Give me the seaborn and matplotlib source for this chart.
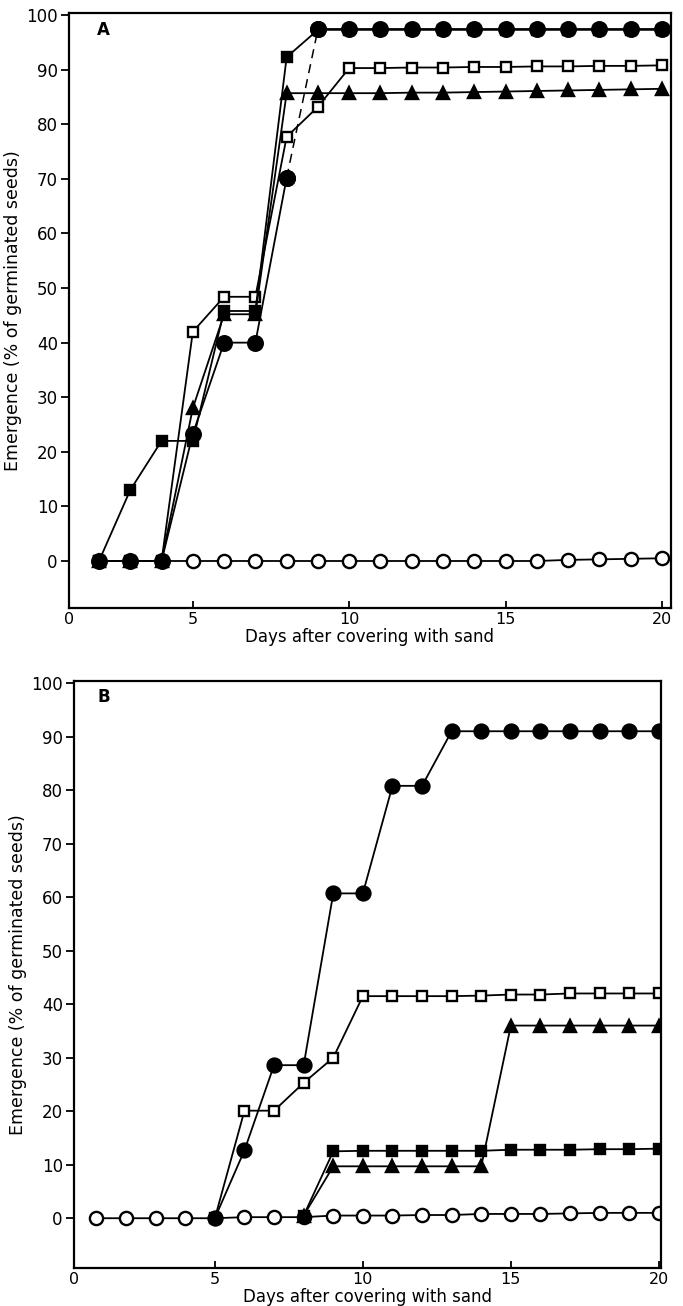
import matplotlib
matplotlib.use("Agg")
import matplotlib.pyplot as plt
import seaborn as sns

# ---- panel A data (days 2..20) ----
days_a = list(range(2, 21))
a_open_circle = [0] * 15 + [0.2, 0.3, 0.4, 0.5]
a_open_square = [0, 0, 0, 42, 48.4, 48.4, 77.7, 83.2, 90.3, 90.3, 90.4, 90.4, 90.5, 90.5, 90.6, 90.6, 90.7, 90.7, 90.8]
a_triangle = [0, 0, 0, 28, 45.2, 45.2, 85.7, 85.7, 85.7, 85.7, 85.8, 85.8, 85.9, 86.0, 86.1, 86.2, 86.3, 86.4, 86.5]
a_filled_square = [0, 13, 22, 22, 45.8, 45.8, 92.3, 97.3] + [97.3] * 11
a_filled_circle = [0, 0, 0, 23.3, 40, 40, 70.2, 97.4] + [97.4] * 11

# ---- panel B data (days 1..20) ----
days_b = list(range(1, 21))
b_open_circle = [0, 0, 0, 0, 0, 0.2, 0.2, 0.2, 0.5, 0.5, 0.5, 0.6, 0.6, 0.8, 0.8, 0.8, 0.9, 1.0, 1.0, 1.0]
days_b5 = list(range(5, 21))
b_open_square = [0, 20.1, 20.1, 25.3, 30, 41.5, 41.5, 41.5, 41.5, 41.6, 41.8, 41.8, 42, 42, 42, 42]
b_filled_circle = [0, 12.7, 28.6, 28.6, 60.7, 60.7, 80.8, 80.8, 91, 91, 91, 91, 91, 91, 91, 91]
days_b8 = list(range(8, 21))
b_filled_square = [0.5, 12.5, 12.6, 12.6, 12.6, 12.6, 12.6, 12.8, 12.8, 12.8, 12.9, 12.9, 13.0]
b_triangle = [0.5, 9.7, 9.7, 9.7, 9.7, 9.7, 9.7, 36, 36, 36, 36, 36, 36]

y_ticks = list(range(0, 101, 10))
x_ticks = [5, 10, 15, 20]

sns.set_style("ticks")
plt.rcParams["font.family"] = ["DejaVu Sans"]
plt.rcParams["text.color"] = "black"
plt.rcParams["axes.labelcolor"] = "black"
plt.rcParams["xtick.color"] = "black"
plt.rcParams["ytick.color"] = "black"

fig = plt.figure(figsize=(6.83, 13.06), dpi=100)
axA = fig.add_axes([0.101, 0.5345, 0.8814, 0.4556])
axB = fig.add_axes([0.1083, 0.0291, 0.8594, 0.4495])


def draw(ax, x, y, marker, filled, ms, ls="-", lw=1.3):
    sns.lineplot(x=x, y=y, ax=ax, color="black", linewidth=lw, linestyle=ls,
                 marker=marker, markersize=ms,
                 markerfacecolor="black" if filled else "white",
                 markeredgecolor="black", markeredgewidth=1.7,
                 errorbar=None, legend=False)


draw(axA, days_a, a_open_circle, "o", False, 9.5)
draw(axA, days_a, a_open_square, "s", False, 7.5)
draw(axA, days_a, a_triangle, "^", True, 8.5)
draw(axA, days_a, a_filled_square, "s", True, 7.5)
# filled-circle series: the day 8 -> 9 rise is drawn dashed in the original
draw(axA, days_a[:7], a_filled_circle[:7], "o", True, 10.5)
draw(axA, days_a[6:8], a_filled_circle[6:8], "o", True, 10.5, ls=(0, (6, 4)), lw=1.1)
draw(axA, days_a[7:], a_filled_circle[7:], "o", True, 10.5)

draw(axB, days_b, b_open_circle, "o", False, 9.5)
draw(axB, days_b5, b_open_square, "s", False, 7.5)
draw(axB, days_b8, b_triangle, "^", True, 8.5)
draw(axB, days_b8, b_filled_square, "s", True, 7.5)
draw(axB, days_b5, b_filled_circle, "o", True, 10)

for ax, xl, yl, tag, tx in [(axA, (1.04, 20.29), (-8.6, 100.4), "A", 0.047),
                            (axB, (0.24, 20.07), (-9.3, 100.4), "B", 0.04)]:
    ax.set_xlim(*xl)
    ax.set_ylim(*yl)
    ax.set_xticks([xl[0]] + x_ticks)
    ax.set_xticklabels(["0"] + [str(t) for t in x_ticks])
    ax.set_yticks(y_ticks)
    ax.set_yticklabels([str(t) for t in y_ticks])
    ax.tick_params(axis="y", direction="out", length=6, width=1.3, labelsize=12, pad=2)
    ax.tick_params(axis="x", direction="in", length=5, width=1.3, labelsize=11.5, pad=3)
    for s in ax.spines.values():
        s.set_linewidth(1.6)
        s.set_color("black")
    ax.set_xlabel("Days after covering with sand", fontsize=12, labelpad=0.5)
    ax.set_ylabel("Emergence (% of germinated seeds)", fontsize=12.5, labelpad=3)
    ax.text(tx, 0.972, tag, transform=ax.transAxes, fontsize=12, fontweight="bold",
            ha="left", va="center")

fig.savefig("out.png", dpi=100)
